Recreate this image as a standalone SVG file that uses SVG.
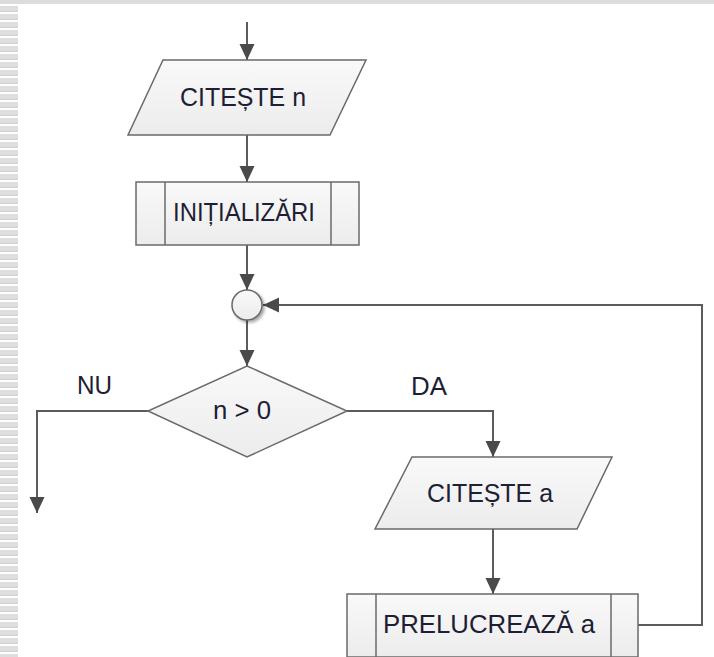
<svg xmlns="http://www.w3.org/2000/svg" width="714" height="657" viewBox="0 0 714 657">
<style>
.shape{fill:url(#fillGrad);stroke:#6a6a6a;stroke-width:1.5}
.conn{fill:none;stroke:#5c5c5c;stroke-width:2}
.lbl{font-family:"Liberation Sans",Arial,sans-serif;font-size:25px;fill:#1e1e34}
</style>
<defs>
<linearGradient id="fillGrad" x1="0" y1="0" x2="0" y2="1">
<stop offset="0" stop-color="#f9f9f9"/>
<stop offset="1" stop-color="#ececec"/>
</linearGradient>
<pattern id="stripes" x="0" y="6" width="18" height="8" patternUnits="userSpaceOnUse">
<rect x="0" y="0" width="18" height="6" fill="#dedede"/>
<rect x="0" y="5" width="18" height="1" fill="#d2d2d2"/>
</pattern>
<marker id="arrow" markerUnits="userSpaceOnUse" markerWidth="17" markerHeight="16" refX="16" refY="7.5" orient="auto">
<path d="M0,0 L16,7.5 L0,15 z" fill="#4a4a4a"/>
</marker>
<filter id="shadow" x="-30%" y="-30%" width="170%" height="170%">
<feGaussianBlur in="SourceAlpha" stdDeviation="1.5"/>
<feOffset dx="2" dy="2" result="b"/>
<feComponentTransfer><feFuncA type="linear" slope="0.35"/></feComponentTransfer>
<feMerge><feMergeNode/><feMergeNode in="SourceGraphic"/></feMerge>
</filter>
</defs>
<rect x="0" y="0" width="714" height="657" fill="#ffffff"/>
<rect x="0" y="0" width="714" height="4" fill="#dcdcdc"/>
<rect x="0" y="4" width="18" height="653" fill="url(#stripes)"/>

<g id="connectors">
<line class="conn" x1="247" y1="22" x2="247" y2="60" marker-end="url(#arrow)"/>
<line class="conn" x1="247" y1="135" x2="247" y2="182" marker-end="url(#arrow)"/>
<line class="conn" x1="247" y1="245" x2="247" y2="290" marker-end="url(#arrow)"/>
<line class="conn" x1="247" y1="320" x2="247" y2="366" marker-end="url(#arrow)"/>
<polyline class="conn" points="148,411 37,411 37,513" marker-end="url(#arrow)"/>
<polyline class="conn" points="347,411 493,411 493,457" marker-end="url(#arrow)"/>
<line class="conn" x1="493" y1="529" x2="493" y2="594" marker-end="url(#arrow)"/>
<polyline class="conn" points="638,625 702,625 702,305 263,305" marker-end="url(#arrow)"/>
</g>

<g id="read-n">
<polygon class="shape" points="163,60 366,60 330,135 128,135"/>
<text class="lbl" x="180" y="106" textLength="126" lengthAdjust="spacingAndGlyphs">CITEȘTE n</text>
</g>

<g id="init">
<rect class="shape" x="136" y="182" width="223" height="63"/>
<line class="shape" x1="165" y1="182" x2="165" y2="245"/>
<line class="shape" x1="331" y1="182" x2="331" y2="245"/>
<text class="lbl" x="173" y="221" textLength="142" lengthAdjust="spacingAndGlyphs">INIȚIALIZĂRI</text>
</g>

<g id="junction">
<circle class="shape" cx="247" cy="305" r="15" filter="url(#shadow)"/>
</g>

<g id="decision">
<polygon class="shape" points="247,366 347,411 247,457 148,411"/>
<text class="lbl" x="213" y="419" textLength="58" lengthAdjust="spacingAndGlyphs">n &gt; 0</text>
</g>

<g id="label-nu">
<text class="lbl" x="77" y="394" textLength="35" lengthAdjust="spacingAndGlyphs">NU</text>
</g>
<g id="label-da">
<text class="lbl" x="411" y="395" textLength="36" lengthAdjust="spacingAndGlyphs">DA</text>
</g>

<g id="read-a">
<polygon class="shape" points="412,457 612,457 577,529 375,529"/>
<text class="lbl" x="427" y="502" textLength="126" lengthAdjust="spacingAndGlyphs">CITEȘTE a</text>
</g>

<g id="process-a">
<rect class="shape" x="347" y="594" width="291" height="63"/>
<line class="shape" x1="376" y1="594" x2="376" y2="657"/>
<line class="shape" x1="611" y1="594" x2="611" y2="657"/>
<text class="lbl" x="383" y="633" textLength="212" lengthAdjust="spacingAndGlyphs">PRELUCREAZĂ a</text>
</g>
</svg>
